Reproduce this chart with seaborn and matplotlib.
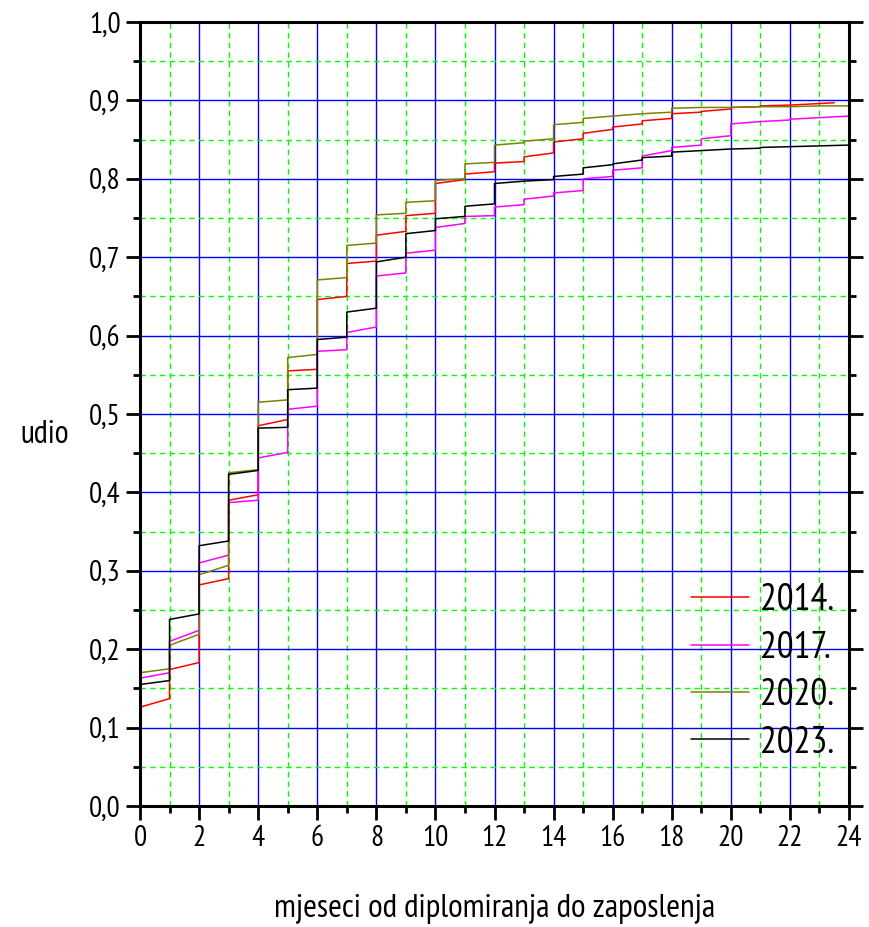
import numpy as np
import pandas as pd
import matplotlib
matplotlib.use('Agg')
import matplotlib.pyplot as plt
from matplotlib.ticker import MultipleLocator, FuncFormatter
import seaborn as sns

sns.set_style('white')
plt.rcParams['font.family'] = ['Liberation Sans Narrow', 'PT Sans Narrow', 'Roboto Condensed',
                               'Archivo Narrow', 'DejaVu Sans']
plt.rcParams['text.color'] = 'black'
plt.rcParams['axes.labelcolor'] = 'black'
plt.rcParams['xtick.color'] = 'black'
plt.rcParams['ytick.color'] = 'black'

# values read per month: value right after the jump at month m, value just before month m+1
years = ['2014.', '2017.', '2020.', '2023.']
colors = ['#ff0000', '#ff00ff', '#808000', '#000000']
x_last = [23.5, 24, 24, 24]

start_2014 = [0.126, 0.174, 0.282, 0.390, 0.485, 0.555, 0.646, 0.692, 0.728, 0.753, 0.794, 0.806,
              0.820, 0.828, 0.847, 0.858, 0.866, 0.874, 0.883, 0.886, 0.891, 0.893, 0.894, 0.896]
end_2014 = [0.137, 0.183, 0.290, 0.397, 0.493, 0.557, 0.650, 0.695, 0.733, 0.756, 0.799, 0.809,
            0.822, 0.833, 0.851, 0.863, 0.870, 0.877, 0.885, 0.889, 0.892, 0.894, 0.896, 0.897]

start_2017 = [0.163, 0.210, 0.310, 0.387, 0.444, 0.506, 0.580, 0.604, 0.676, 0.705, 0.738, 0.752,
              0.764, 0.774, 0.782, 0.800, 0.811, 0.829, 0.840, 0.851, 0.870, 0.873, 0.876, 0.878]
end_2017 = [0.170, 0.224, 0.320, 0.390, 0.451, 0.510, 0.582, 0.611, 0.680, 0.709, 0.743, 0.753,
            0.767, 0.778, 0.785, 0.803, 0.814, 0.836, 0.843, 0.855, 0.873, 0.875, 0.878, 0.880]

start_2020 = [0.170, 0.205, 0.295, 0.425, 0.515, 0.572, 0.671, 0.715, 0.754, 0.770, 0.798, 0.819,
              0.843, 0.848, 0.869, 0.877, 0.880, 0.883, 0.890, 0.891, 0.891, 0.892, 0.892, 0.893]
end_2020 = [0.175, 0.219, 0.307, 0.429, 0.518, 0.576, 0.674, 0.718, 0.756, 0.772, 0.800, 0.821,
            0.846, 0.851, 0.872, 0.880, 0.883, 0.885, 0.891, 0.891, 0.892, 0.892, 0.893, 0.893]

start_2023 = [0.155, 0.238, 0.332, 0.423, 0.482, 0.531, 0.595, 0.630, 0.694, 0.730, 0.749, 0.765,
              0.794, 0.797, 0.803, 0.814, 0.819, 0.827, 0.834, 0.836, 0.838, 0.840, 0.841, 0.842]
end_2023 = [0.160, 0.245, 0.338, 0.428, 0.483, 0.533, 0.598, 0.635, 0.700, 0.734, 0.752, 0.768,
            0.797, 0.799, 0.806, 0.818, 0.824, 0.829, 0.836, 0.838, 0.839, 0.841, 0.842, 0.843]

starts = [start_2014, start_2017, start_2020, start_2023]
ends = [end_2014, end_2017, end_2020, end_2023]

# build step curves: jump at each month, slow rise inside the month
rows = []
for yr, st, en, xl in zip(years, starts, ends, x_last):
    order = 0
    rows.append((yr, order, 0.0, 0.0))
    for m in range(len(st)):
        order += 1
        rows.append((yr, order, float(m), st[m]))
        order += 1
        rows.append((yr, order, float(min(m + 1, xl)), en[m]))
df = pd.DataFrame(rows, columns=['godina', 'order', 'x', 'y'])

fig = plt.figure(figsize=(8.7, 9.27), dpi=100)
ax = fig.add_axes([140 / 870, 121 / 927, 709 / 870, 784 / 927])

# grid
ax.xaxis.set_major_locator(MultipleLocator(2))
ax.xaxis.set_minor_locator(MultipleLocator(1))
ax.yaxis.set_major_locator(MultipleLocator(0.1))
ax.yaxis.set_minor_locator(MultipleLocator(0.05))
ax.grid(which='minor', color='#00ff00', linestyle=(0, (4, 3)), linewidth=1.0)
ax.grid(which='major', color='#0000ff', linestyle='-', linewidth=1.0)
ax.set_axisbelow(True)

sns.lineplot(data=df, x='x', y='y', hue='godina', palette=colors, sort=False,
             estimator=None, units='godina', linewidth=1.1, ax=ax, legend=False)

ax.set_xlim(0, 24)
ax.set_ylim(0, 1.0)

ax.yaxis.set_major_formatter(FuncFormatter(lambda v, p: f'{v:.1f}'.replace('.', ',')))
ax.tick_params(which='major', direction='out', length=10, width=2, labelsize=21, pad=4,
               right=True, left=True, bottom=True, top=False, labelright=False)
ax.tick_params(which='minor', direction='out', length=5, width=2,
               right=True, left=True, bottom=True, top=False)
for s in ax.spines.values():
    s.set_linewidth(2.2)
    s.set_color('black')

ax.set_xlabel('mjeseci od diplomiranja do zaposlenja', fontsize=24, labelpad=30)
ax.set_ylabel('udio', fontsize=23, rotation=0, va='center', ha='center')
ax.yaxis.set_label_coords(-0.135, 0.473)

handles = [plt.Line2D([], [], color=c, linewidth=1.1) for c in colors]
ax.legend(handles, years, loc='lower right', bbox_to_anchor=(1.006, 0.034), frameon=False,
          fontsize=27, handlelength=1.55, handletextpad=0.3, labelspacing=0.33,
          borderaxespad=0.1)

fig.savefig('out.png', dpi=100)
